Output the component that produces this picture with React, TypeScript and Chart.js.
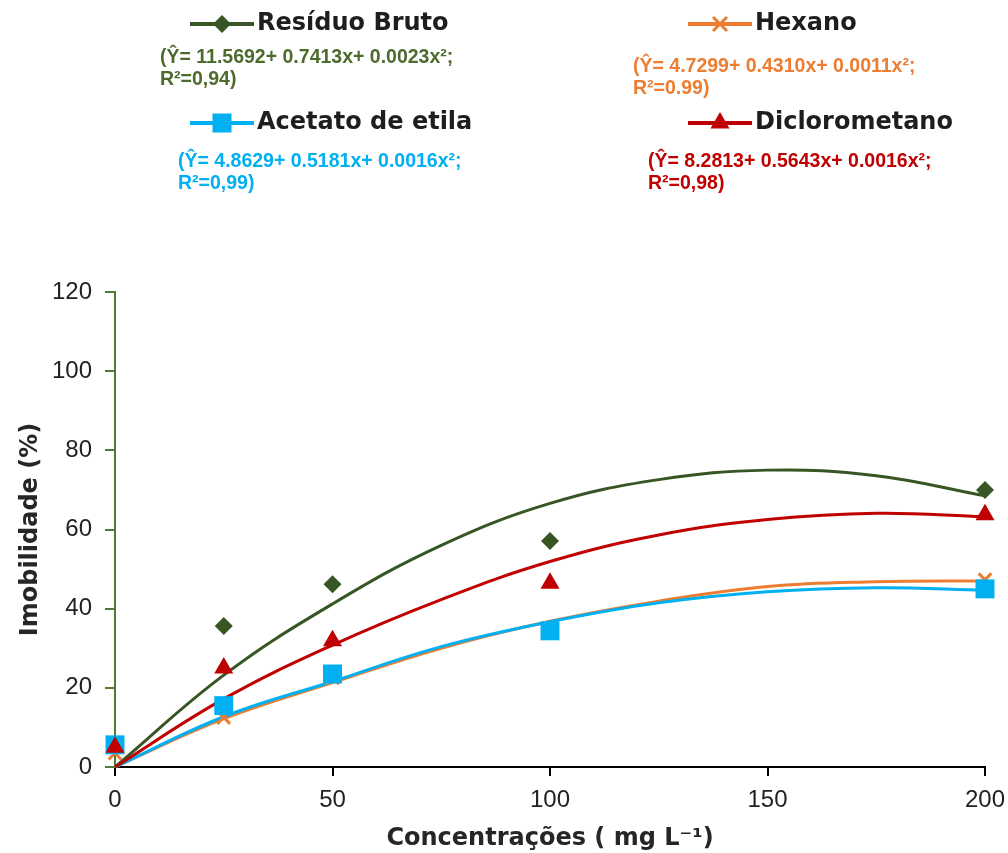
import React, { useEffect, useRef } from 'react';
import { Chart, registerables } from 'chart.js';

Chart.register(...registerables);

// Observed concentrations (mg L-1)
const concentrations = [0, 25, 50, 100, 200];
// Observed immobility (%)
const residuoBruto = [5.0, 35.6, 46.2, 57.1, 70.0];
const hexano = [3.5, 12.5, 22.5, 35.0, 47.3];
const acetatoEtila = [5.6, 15.5, 23.5, 34.4, 45.0];
const diclorometano = [5.0, 25.0, 31.9, 46.4, 63.7];

// Trend curves
const trendX = [0, 25, 50, 75, 100, 125, 150, 175, 200];
const trendResiduo = [0, 23.2, 41.2, 56.0, 66.6, 72.6, 75.0, 73.6, 68.5];
const trendHexano = [0, 12.2, 21.3, 30.0, 36.8, 41.9, 45.6, 46.8, 47.0];
const trendAcetato = [0, 12.7, 21.6, 30.4, 36.7, 41.5, 44.3, 45.3, 44.7];
const trendDicloro = [0, 17.2, 30.8, 42.3, 51.9, 58.6, 62.5, 64.1, 63.2];

const xTicks = [0, 50, 100, 150, 200];
const yTicks = [0, 20, 40, 60, 80, 100, 120];

const seriesNames = ['Resíduo Bruto', 'Hexano', 'Acetato de etila', 'Diclorometano'];
const equations = [
  ['(Ŷ= 11.5692+ 0.7413x+ 0.0023x²;', 'R²=0,94)'],
  ['(Ŷ= 4.7299+ 0.4310x+ 0.0011x²;', 'R²=0.99)'],
  ['(Ŷ= 4.8629+ 0.5181x+ 0.0016x²;', 'R²=0,99)'],
  ['(Ŷ= 8.2813+ 0.5643x+ 0.0016x²;', 'R²=0,98)'],
];

const GREEN = '#375623';
const GREEN_TEXT = '#4E6B2E';
const ORANGE = '#ED7D31';
const BLUE = '#00B0F0';
const RED = '#C00000';
const AXIS_GREEN = '#4F7A37';

const toXY = (xs: number[], ys: number[]) => xs.map((x, i) => ({ x, y: ys[i] }));

function drawMarker(ctx: CanvasRenderingContext2D, kind: string, x: number, y: number, color: string) {
  ctx.save();
  ctx.fillStyle = color;
  ctx.strokeStyle = color;
  ctx.beginPath();
  if (kind === 'diamond') {
    const r = 9;
    ctx.moveTo(x, y - r);
    ctx.lineTo(x + r, y);
    ctx.lineTo(x, y + r);
    ctx.lineTo(x - r, y);
    ctx.closePath();
    ctx.fill();
  } else if (kind === 'square') {
    const s = 9.5;
    ctx.rect(x - s, y - s, 2 * s, 2 * s);
    ctx.fill();
  } else if (kind === 'triangle') {
    const r = 11;
    ctx.moveTo(x, y - r);
    ctx.lineTo(x + r * 0.866, y + r / 2);
    ctx.lineTo(x - r * 0.866, y + r / 2);
    ctx.closePath();
    ctx.fill();
  } else {
    const r = 7;
    ctx.lineWidth = 3;
    ctx.moveTo(x - r, y - r);
    ctx.lineTo(x + r, y + r);
    ctx.moveTo(x + r, y - r);
    ctx.lineTo(x - r, y + r);
    ctx.stroke();
  }
  ctx.restore();
}

const legendItems = [
  { name: seriesNames[0], color: GREEN, textColor: GREEN_TEXT, marker: 'diamond', lx: 190, ly: 24, ex: 160, ey: 58 },
  { name: seriesNames[1], color: ORANGE, textColor: ORANGE, marker: 'cross', lx: 688, ly: 24, ex: 633, ey: 67 },
  { name: seriesNames[2], color: BLUE, textColor: BLUE, marker: 'square', lx: 190, ly: 123, ex: 178, ey: 162 },
  { name: seriesNames[3], color: RED, textColor: RED, marker: 'triangle', lx: 688, ly: 123, ex: 648, ey: 162 },
];

const legendPlugin = {
  id: 'customLegend',
  afterDraw(chart: any) {
    const ctx: CanvasRenderingContext2D = chart.ctx;
    legendItems.forEach((it, i) => {
      ctx.save();
      ctx.strokeStyle = it.color;
      ctx.lineWidth = 4;
      ctx.beginPath();
      ctx.moveTo(it.lx, it.ly);
      ctx.lineTo(it.lx + 64, it.ly);
      ctx.stroke();
      drawMarker(ctx, it.marker, it.lx + 32, it.ly, it.color);
      ctx.fillStyle = '#1E1E1E';
      ctx.font = 'bold 24px "DejaVu Sans"';
      ctx.textBaseline = 'middle';
      ctx.textAlign = 'left';
      ctx.fillText(it.name, it.lx + 67, it.ly);
      ctx.fillStyle = it.textColor;
      ctx.font = 'bold 19.5px "Liberation Sans"';
      ctx.fillText(equations[i][0], it.ex, it.ey);
      ctx.fillText(equations[i][1], it.ex, it.ey + 22);
      ctx.restore();
    });
  },
};

export default function App() {
  const canvasRef = useRef<HTMLCanvasElement | null>(null);

  useEffect(() => {
    if (!canvasRef.current) return;
    const chart = new Chart(canvasRef.current, {
      type: 'line',
      data: {
        datasets: [
          {
            label: seriesNames[3],
            data: toXY(concentrations, diclorometano),
            showLine: false,
            pointStyle: 'triangle',
            pointRadius: 11,
            backgroundColor: RED,
            borderColor: RED,
            borderWidth: 0,
            order: 0,
            clip: false,
          },
          {
            label: seriesNames[2],
            data: toXY(concentrations, acetatoEtila),
            showLine: false,
            pointStyle: 'rect',
            pointRadius: 13.4,
            backgroundColor: BLUE,
            borderColor: BLUE,
            borderWidth: 0,
            order: 1,
            clip: false,
          },
          {
            label: seriesNames[1],
            data: toXY(concentrations, hexano),
            showLine: false,
            pointStyle: 'crossRot',
            pointRadius: 9,
            backgroundColor: ORANGE,
            borderColor: ORANGE,
            pointBorderWidth: 3,
            order: 2,
            clip: false,
          },
          {
            label: seriesNames[0],
            data: toXY(concentrations, residuoBruto),
            showLine: false,
            pointStyle: 'rectRot',
            pointRadius: 9,
            backgroundColor: GREEN,
            borderColor: GREEN,
            borderWidth: 0,
            order: 3,
            clip: false,
          },
          {
            label: 'trend ' + seriesNames[3],
            data: toXY(trendX, trendDicloro),
            borderColor: RED,
            borderWidth: 3,
            pointRadius: 0,
            tension: 0.4,
            order: 4,
            clip: false,
          },
          {
            label: 'trend ' + seriesNames[2],
            data: toXY(trendX, trendAcetato),
            borderColor: BLUE,
            borderWidth: 3,
            pointRadius: 0,
            tension: 0.4,
            order: 5,
            clip: false,
          },
          {
            label: 'trend ' + seriesNames[1],
            data: toXY(trendX, trendHexano),
            borderColor: ORANGE,
            borderWidth: 3,
            pointRadius: 0,
            tension: 0.4,
            order: 6,
            clip: false,
          },
          {
            label: 'trend ' + seriesNames[0],
            data: toXY(trendX, trendResiduo),
            borderColor: GREEN,
            borderWidth: 3,
            pointRadius: 0,
            tension: 0.4,
            order: 7,
            clip: false,
          },
        ],
      },
      options: {
        animation: false,
        responsive: true,
        maintainAspectRatio: false,
        devicePixelRatio: 1,
        layout: { padding: { top: 292, right: 23, left: 0, bottom: 0 } },
        plugins: {
          legend: { display: false },
          tooltip: { enabled: false },
        },
        scales: {
          x: {
            type: 'linear',
            min: 0,
            max: 200,
            afterBuildTicks: (s: any) => {
              s.ticks = xTicks.map((v) => ({ value: v }));
            },
            afterFit: (s: any) => {
              s.height = 86;
              s.paddingLeft = 0;
              s.paddingRight = 0;
            },
            border: { color: '#000000', width: 2 },
            grid: { drawOnChartArea: false, drawTicks: true, tickLength: 9, color: '#000000', lineWidth: 2 },
            ticks: {
              color: '#222222',
              font: { family: '"Liberation Sans"', size: 24 },
              padding: 10,
              maxRotation: 0,
            },
            title: {
              display: true,
              text: 'Concentrações ( mg L⁻¹)',
              color: '#262626',
              font: { family: '"DejaVu Sans"', size: 24, weight: 'bold' },
              padding: { top: 0, bottom: 0 },
            },
          },
          y: {
            type: 'linear',
            min: 0,
            max: 120,
            afterBuildTicks: (s: any) => {
              s.ticks = yTicks.map((v) => ({ value: v }));
            },
            afterFit: (s: any) => {
              s.width = 115;
              s.paddingTop = 0;
              s.paddingBottom = 0;
            },
            border: { color: AXIS_GREEN, width: 2 },
            grid: { drawOnChartArea: false, drawTicks: true, tickLength: 10, color: AXIS_GREEN, lineWidth: 2 },
            ticks: {
              color: '#222222',
              font: { family: '"Liberation Sans"', size: 24 },
              padding: 13,
            },
            title: {
              display: true,
              text: 'Imobilidade (%)',
              color: '#262626',
              font: { family: '"DejaVu Sans"', size: 24, weight: 'bold' },
              padding: { top: 16, bottom: 0 },
            },
          },
        },
      } as any,
      plugins: [legendPlugin],
    });
    return () => chart.destroy();
  }, []);

  return (
    <div style={{ position: 'fixed', left: 0, top: 0, width: 1008, height: 853, background: '#ffffff' }}>
      <canvas ref={canvasRef} />
    </div>
  );
}
